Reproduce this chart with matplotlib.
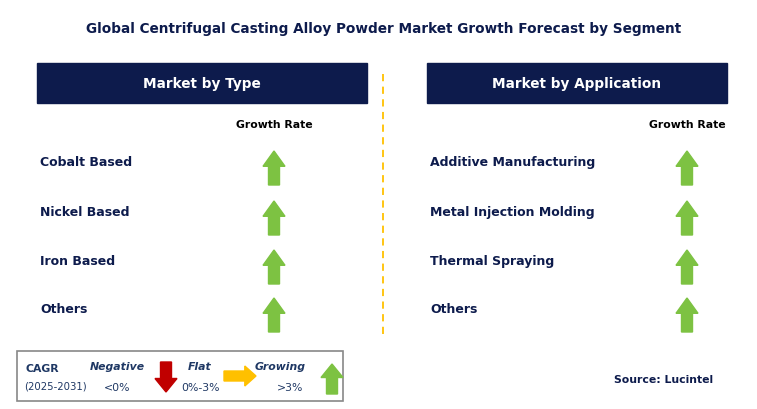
import matplotlib.pyplot as plt
from matplotlib.patches import Rectangle, Polygon

title = "Global Centrifugal Casting Alloy Powder Market Growth Forecast by Segment"
type_labels = ["Cobalt Based", "Nickel Based", "Iron Based", "Others"]
type_trend = ["up", "up", "up", "up"]
app_labels = ["Additive Manufacturing", "Metal Injection Molding", "Thermal Spraying", "Others"]
app_trend = ["up", "up", "up", "up"]
row_y = [163, 213, 262, 310]

NAVY = "#0d1b4c"
GREEN = "#7dc242"
RED = "#c00000"
ORANGE = "#ffc000"

W, H = 757, 410
fig = plt.figure(figsize=(W / 100, H / 100), dpi=100)
ax = fig.add_axes([0, 0, 1, 1])
ax.set_xlim(0, W)
ax.set_ylim(H, 0)
ax.axis("off")


def arrow(cx, cy, direction, color, w=22, h=34):
    sw = w * 0.5
    hh = h * 0.45
    if direction == "up":
        pts = [(cx - w / 2, cy - h / 2 + hh), (cx, cy - h / 2), (cx + w / 2, cy - h / 2 + hh),
               (cx + sw / 2, cy - h / 2 + hh), (cx + sw / 2, cy + h / 2),
               (cx - sw / 2, cy + h / 2), (cx - sw / 2, cy - h / 2 + hh)]
    elif direction == "down":
        pts = [(cx - w / 2, cy + h / 2 - hh), (cx, cy + h / 2), (cx + w / 2, cy + h / 2 - hh),
               (cx + sw / 2, cy + h / 2 - hh), (cx + sw / 2, cy - h / 2),
               (cx - sw / 2, cy - h / 2), (cx - sw / 2, cy + h / 2 - hh)]
    else:  # right: w is length, h is height
        sw = h * 0.5
        hl = w * 0.35
        pts = [(cx + w / 2 - hl, cy - h / 2), (cx + w / 2, cy), (cx + w / 2 - hl, cy + h / 2),
               (cx + w / 2 - hl, cy + sw / 2), (cx - w / 2, cy + sw / 2),
               (cx - w / 2, cy - sw / 2), (cx + w / 2 - hl, cy - sw / 2)]
    ax.add_patch(Polygon(pts, closed=True, color=color))


ax.text(W / 2 + 5, 29, title, ha="center", va="center", fontsize=9.8, fontweight="bold", color=NAVY)

panels = [(37, 330, "Market by Type", type_labels, type_trend, 274),
          (427, 300, "Market by Application", app_labels, app_trend, 687)]
for x0, w, head, labels, trends, ax_x in panels:
    ax.add_patch(Rectangle((x0, 64), w, 40, color=NAVY))
    ax.text(x0 + w / 2, 84, head, ha="center", va="center", fontsize=9.8, fontweight="bold", color="white")
    ax.text(ax_x, 125, "Growth Rate", ha="center", va="center", fontsize=7.8, fontweight="bold", color="black")
    for lab, tr, y in zip(labels, trends, row_y):
        ax.text(x0 + 3, y, lab, ha="left", va="center", fontsize=9, fontweight="bold", color=NAVY)
        arrow(ax_x, y + 6, tr, GREEN)

ax.plot([383, 383], [75, 335], color=ORANGE, lw=1.3, ls=(0, (4, 3)))

# legend box
ax.add_patch(Rectangle((17, 352), 326, 50, fill=False, ec="#888888", lw=1.2))
ax.text(25, 369, "CAGR", fontsize=7.8, fontweight="bold", color="#1f3864", va="center")
ax.text(24, 387, "(2025-2031)", fontsize=7.3, color="#1f3864", va="center")
ax.text(117, 367, "Negative", fontsize=7.8, fontweight="bold", style="italic", color="#1f3864", va="center", ha="center")
ax.text(117, 388, "<0%", fontsize=7.8, color="#1f3864", va="center", ha="center")
arrow(166, 378, "down", RED, w=22, h=30)
ax.text(200, 367, "Flat", fontsize=7.8, fontweight="bold", style="italic", color="#1f3864", va="center", ha="center")
ax.text(200, 388, "0%-3%", fontsize=7.8, color="#1f3864", va="center", ha="center")
arrow(240, 377, "right", ORANGE, w=32, h=20)
ax.text(280, 367, "Growing", fontsize=7.8, fontweight="bold", style="italic", color="#1f3864", va="center", ha="center")
ax.text(290, 388, ">3%", fontsize=7.8, color="#1f3864", va="center", ha="center")
arrow(332, 380, "up", GREEN, w=22, h=30)

ax.text(664, 380, "Source: Lucintel", fontsize=7.8, fontweight="bold", color=NAVY, va="center", ha="center")

fig.savefig("out.png", dpi=100)
